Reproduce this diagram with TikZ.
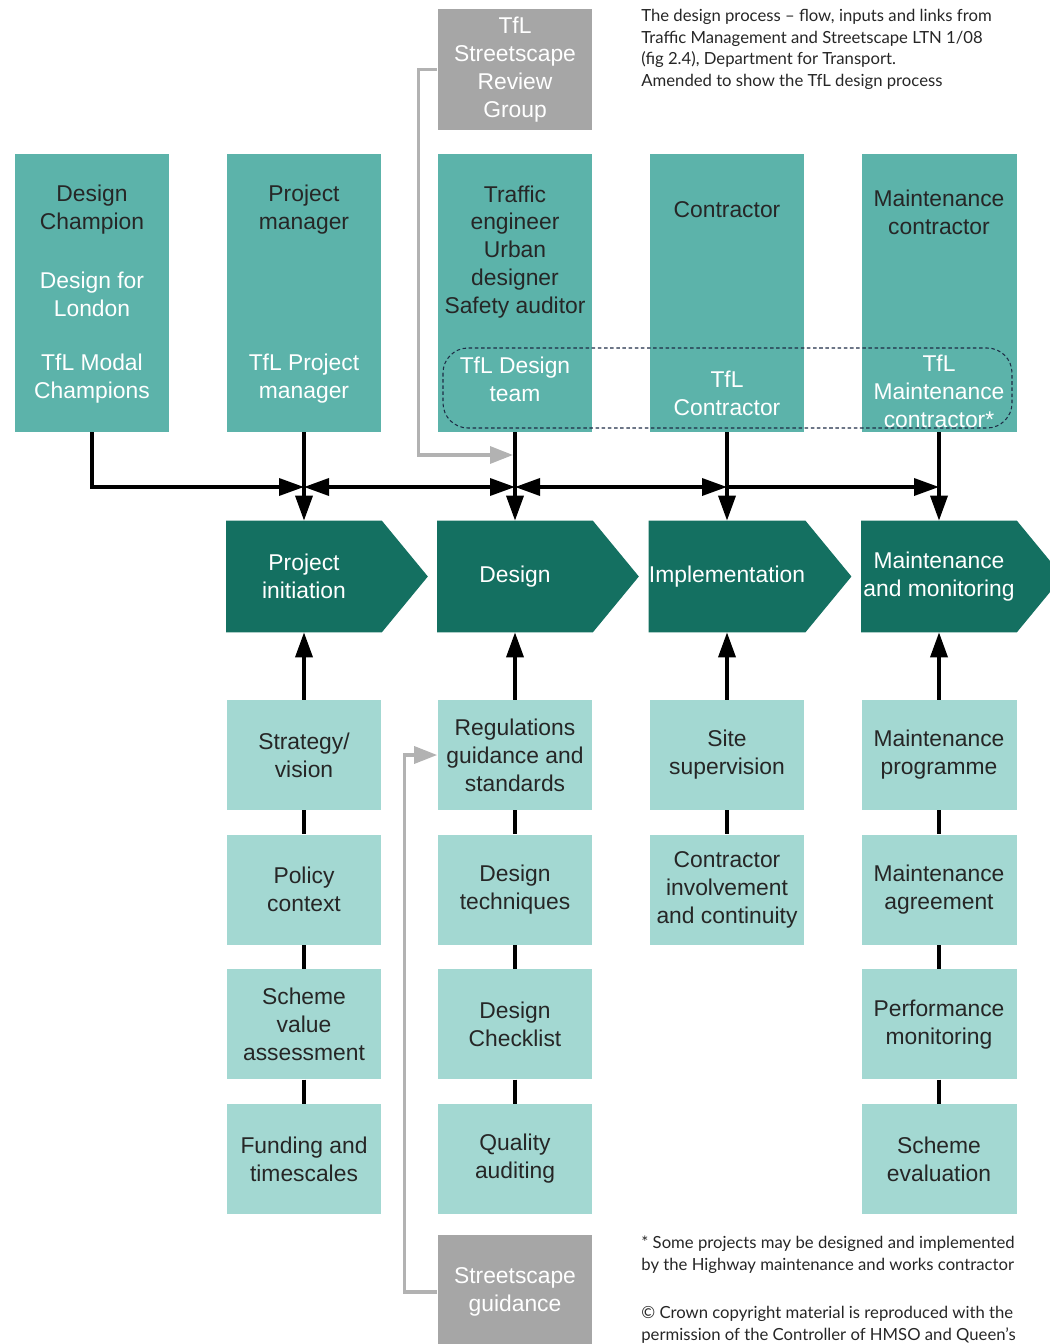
\documentclass[tikz,border=0pt]{standalone}
\usepackage{fontspec}
\setmainfont{Liberation Sans}
\newfontfamily\notefont{Lato}
\usetikzlibrary{positioning, calc, arrows.meta}

\pgfdeclarelayer{background}
\pgfsetlayers{background,main}

\definecolor{roleteal}{RGB}{92,179,170}
\definecolor{phaseteal}{RGB}{20,112,97}
\definecolor{inputteal}{RGB}{163,216,210}
\definecolor{boxgrey}{RGB}{166,166,166}
\definecolor{linegrey}{RGB}{178,178,178}
\definecolor{dashnavy}{RGB}{30,45,70}

\tikzset{
  rolebox/.style={rectangle, fill=roleteal, minimum width=3.1cm, minimum height=5.56cm, inner sep=0pt},
  roletext/.style={align=center, text=black!85, inner sep=0pt},
  tfltext/.style={align=center, text=white, inner sep=0pt},
  phase/.style={rectangle, minimum width=3.1cm, minimum height=2.22cm, align=center, text=white, inner sep=0pt},
  inputbox/.style={rectangle, fill=inputteal, minimum width=3.1cm, minimum height=2.2cm, align=center, text=black!85, inner sep=0pt},
  greybox/.style={rectangle, fill=boxgrey, minimum width=3.1cm, align=center, text=white, inner sep=0pt},
  flow/.style={line width=2pt, -{Triangle[length=0.5cm, width=0.34cm]}},
  twoway/.style={line width=2pt, {Triangle[length=0.5cm, width=0.34cm]}-{Triangle[length=0.5cm, width=0.34cm]}},
  link/.style={line width=2pt},
  greyflow/.style={draw=linegrey, line width=1.9pt, -{Triangle[length=0.46cm, width=0.34cm]}},
  notetext/.style={font=\notefont\fontsize{9.5}{12.3}\selectfont, align=left, anchor=north west, inner sep=0pt, text=black!85}
}

\begin{document}
\begin{tikzpicture}[x=0.02cm, y=-0.02cm, font=\fontsize{13}{15.9}\selectfont]
        \useasboundingbox (0,0) rectangle (1049,1344);

        % Who is involved
        \node[rolebox] (role1) at (92,293) {};
        \node[rolebox] (role2) at (304,293) {};
        \node[rolebox] (role3) at (515,293) {};
        \node[rolebox] (role4) at (727,293) {};
        \node[rolebox] (role5) at (939,293) {};

        % TfL bodies grouped by a dashed outline
        \draw[dashnavy, dash pattern=on 2pt off 1.5pt, line width=0.6pt, rounded corners=0.5cm] (443,348) rectangle (1012,428);

        \node[roletext] (champ) at (92,210) {Design\\Champion};
        \node[tfltext] (dfl) at (92,294) {Design for\\London};
        \node[tfltext] (modal) at (92,379) {TfL Modal\\Champions};
        \node[roletext] (pm) at (304,210) {Project\\manager};
        \node[tfltext] (tflpm) at (304,379) {TfL Project\\manager};
        \node[roletext] (eng) at (515,252) {Traffic\\engineer\\Urban\\designer\\Safety auditor};
        \node[tfltext] (tfldesign) at (515,379) {TfL Design\\team};
        \node[roletext] (contr) at (727,210) {Contractor};
        \node[tfltext] (tflcontr) at (727,393) {TfL\\Contractor};
        \node[roletext] (mcontr) at (939,212) {Maintenance\\contractor};
        \node[tfltext] (tflmaint) at (939,391) {TfL\\Maintenance\\contractor*};

        \node[greybox, minimum height=2.42cm] (review) at (515,69.5) {TfL\\Streetscape\\Review\\Group};

        % Process stages
        \node[phase] (init) at (304,576.5) {Project\\initiation};
        \node[phase] (design) at (515,576.5) {Design};
        \node[phase] (impl) at (727,576.5) {Implementation};
        \node[phase] (maint) at (939,576.5) {Maintenance\\and monitoring};
        \begin{pgfonlayer}{background}
            \foreach \p in {init, design, impl, maint} {
                \fill[phaseteal] (\p.north west) -- (\p.north east) -- ($(\p.east)+(46,0)$) -- (\p.south east) -- (\p.south west) -- cycle;
            }
        \end{pgfonlayer}

        % Inputs under each stage
        \node[inputbox] (strategy) at (304,755) {Strategy/\\vision};
        \node[inputbox, below=0.48cm of strategy] (policy) {Policy\\context};
        \node[inputbox, below=0.48cm of policy] (scheme) {Scheme\\value\\assessment};
        \node[inputbox, below=0.48cm of scheme] (funding) {Funding and\\timescales};

        \node[inputbox] (regs) at (515,755) {Regulations\\guidance and\\standards};
        \node[inputbox, below=0.48cm of regs] (techniques) {Design\\techniques};
        \node[inputbox, below=0.48cm of techniques] (checklist) {Design\\Checklist};
        \node[inputbox, below=0.48cm of checklist] (quality) {Quality\\auditing};

        \node[inputbox] (site) at (727,755) {Site\\supervision};
        \node[inputbox, below=0.48cm of site] (involve) {Contractor\\involvement\\and continuity};

        \node[inputbox] (mprog) at (939,755) {Maintenance\\programme};
        \node[inputbox, below=0.48cm of mprog] (magree) {Maintenance\\agreement};
        \node[inputbox, below=0.48cm of magree] (perf) {Performance\\monitoring};
        \node[inputbox, below=0.48cm of perf] (evaluation) {Scheme\\evaluation};

        \node[greybox, minimum height=2.3cm] (guidance) at (515,1292) {Streetscape\\guidance};

        % Flow between roles and stages
        \coordinate (bus) at (0,487);
        \coordinate (gtip) at (513,455);
        \draw[flow] (role1) |- (bus -| role2);
        \draw[twoway] (bus -| role2) -- (bus -| role3);
        \draw[twoway] (bus -| role3) -- (bus -| role4);
        \draw[flow] (bus -| role4) -- (bus -| role5);
        \foreach \a/\b in {role2/init, role3/design, role4/impl, role5/maint} {
            \draw[flow] (\a) -- (\b);
        }
        \foreach \a/\b in {strategy/init, regs/design, site/impl, mprog/maint} {
            \draw[flow] (\a) -- (\b);
        }
        \foreach \a/\b in {strategy/policy, policy/scheme, scheme/funding, regs/techniques, techniques/checklist, checklist/quality, site/involve, mprog/magree, magree/perf, perf/evaluation} {
            \draw[link] (\a) -- (\b);
        }

        % Streetscape links in grey
        \draw[greyflow] (review.west) -- ++(-19,0) |- (gtip);
        \draw[greyflow] (guidance.west) -- ++(-33,0) |- (regs.west);

        % Notes
        \node[notetext] (caption) at (641,9) {The design process – flow, inputs and links from\\Traffic Management and Streetscape LTN 1/08\\(fig 2.4), Department for Transport.\\Amended to show the TfL design process};
        \node[notetext] (footnote) at (641,1236) {* Some projects may be designed and implemented\\by the Highway maintenance and works contractor};
        \node[notetext] (copyright) at (641,1306) {© Crown copyright material is reproduced with the\\permission of the Controller of HMSO and Queen’s};
\end{tikzpicture}
\end{document}
